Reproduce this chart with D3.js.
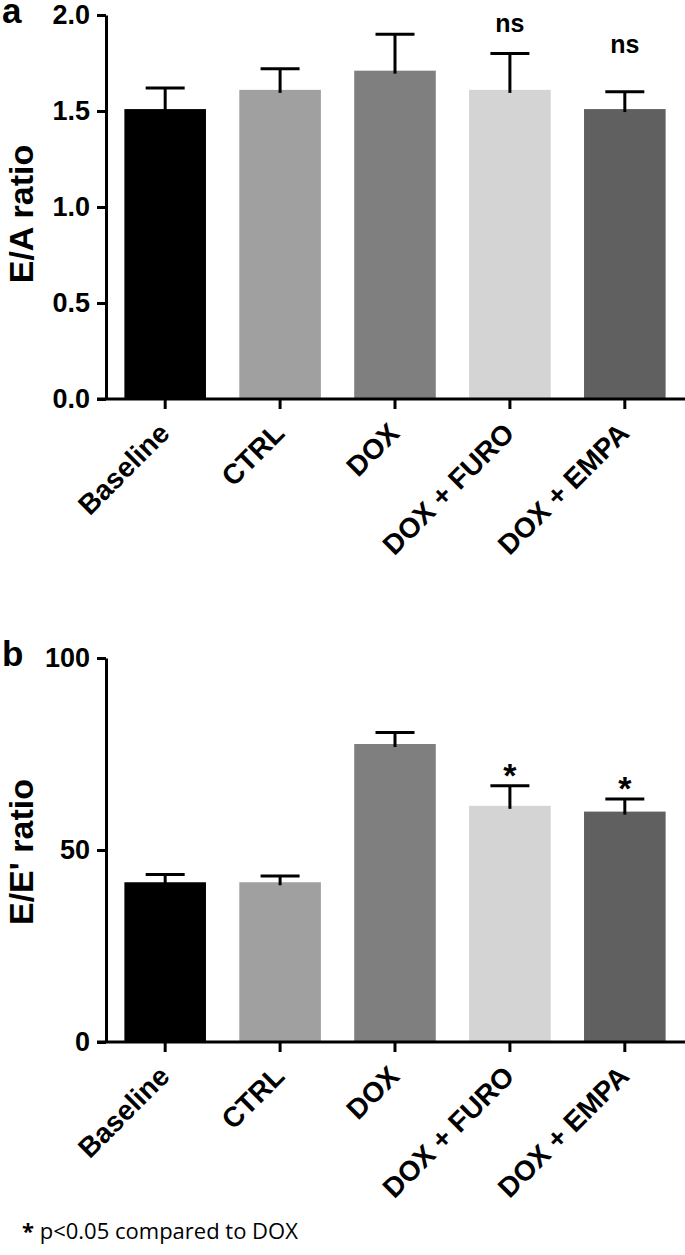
<!DOCTYPE html>
<html>
<head>
<meta charset="utf-8">
<script src="https://cdn.jsdelivr.net/npm/d3@7"></script>
<style>
  body { margin: 0; background: #fff; }
  svg { display: block; font-family: 'Liberation Sans', Arial, sans-serif; }
</style>
</head>
<body>
<div id="chart"></div>
<script>
// groups + bar colours
const groups = ['Baseline', 'CTRL', 'DOX', 'DOX + FURO', 'DOX + EMPA'];
const barColors = ['#000000', '#a0a0a0', '#7f7f7f', '#d4d4d4', '#606060'];

// panel a: E/A ratio
const eaMean = [1.51, 1.61, 1.71, 1.61, 1.51];
const eaErr = [0.11, 0.11, 0.19, 0.19, 0.09];
const eaTicks = [0, 0.5, 1.0, 1.5, 2.0];
const eaMarks = ['', '', '', 'ns', 'ns'];

// panel b: E/E' ratio
const eeMean = [41.6, 41.6, 77.6, 61.5, 60.0];
const eeErr = [2.0, 1.6, 3.0, 5.2, 3.3];
const eeTicks = [0, 50, 100];
const eeMarks = ['', '', '', '*', '*'];

const width = 685, height = 1255;

const svg = d3.select('#chart').append('svg')
  .attr('width', width)
  .attr('height', height);

/**
 * one bar panel
 * */
function drawPanel(opt) {
  const { top, bottom, domainMax, means, errs, ticks, tickFmt, marks, markSize, markDy, letter, yLabel, labelY } = opt;
  const axisX = 106;

  const x = d3.scaleBand()
    .domain(groups)
    .range([axisX, 684])
    .paddingInner(0.29)
    .paddingOuter(0.16);

  const y = d3.scaleLinear()
    .domain([0, domainMax])
    .range([bottom, top]);

  const g = svg.append('g');

  // bars
  g.selectAll('rect.bar')
    .data(groups)
    .enter()
    .append('rect')
    .attr('class', 'bar')
    .attr('x', d => x(d))
    .attr('y', (d, i) => y(means[i]))
    .attr('width', x.bandwidth())
    .attr('height', (d, i) => y(0) - y(means[i]))
    .attr('fill', (d, i) => barColors[i]);

  // error bars (upper only)
  const capW = 39;
  const eb = g.selectAll('g.err')
    .data(groups)
    .enter()
    .append('g')
    .attr('class', 'err')
    .attr('stroke', '#000')
    .attr('stroke-width', 3);
  eb.append('line')
    .attr('x1', d => x(d) + x.bandwidth() / 2)
    .attr('x2', d => x(d) + x.bandwidth() / 2)
    .attr('y1', (d, i) => y(means[i]) + 3)
    .attr('y2', (d, i) => y(means[i] + errs[i]));
  eb.append('line')
    .attr('x1', d => x(d) + x.bandwidth() / 2 - capW / 2)
    .attr('x2', d => x(d) + x.bandwidth() / 2 + capW / 2)
    .attr('y1', (d, i) => y(means[i] + errs[i]))
    .attr('y2', (d, i) => y(means[i] + errs[i]));

  // significance marks
  g.selectAll('text.mark')
    .data(groups)
    .enter()
    .append('text')
    .attr('class', 'mark')
    .attr('x', d => x(d) + x.bandwidth() / 2)
    .attr('y', (d, i) => y(means[i] + errs[i]) + markDy[i])
    .attr('text-anchor', 'middle')
    .style('font-size', markSize)
    .style('font-weight', 'bold')
    .text((d, i) => marks[i]);

  // y axis
  const yAxis = g.append('g')
    .attr('transform', `translate(${axisX},0)`)
    .call(d3.axisLeft(y)
      .tickValues(ticks)
      .tickFormat(tickFmt)
      .tickSizeInner(9)
      .tickSizeOuter(0)
      .tickPadding(7));
  yAxis.select('.domain').attr('stroke-width', 3);
  yAxis.selectAll('.tick line').attr('stroke-width', 3);
  yAxis.selectAll('.tick text')
    .style('font-size', '27px')
    .style('font-weight', 'bold')
    .attr('fill', '#000');

  // x axis
  const xAxis = g.append('g')
    .attr('transform', `translate(0,${bottom})`)
    .call(d3.axisBottom(x)
      .tickSizeInner(10)
      .tickSizeOuter(0));
  xAxis.select('.domain').remove();
  xAxis.append('line')
    .attr('x1', axisX - 9)
    .attr('x2', 685)
    .attr('stroke', '#000')
    .attr('stroke-width', 3);
  xAxis.selectAll('.tick line').attr('stroke-width', 3);
  xAxis.selectAll('.tick text')
    .attr('x', 0)
    .attr('y', 0)
    .attr('dy', 0)
    .attr('transform', 'translate(6,36) rotate(-45)')
    .attr('text-anchor', 'end')
    .style('font-size', '28px')
    .style('font-weight', 'bold')
    .attr('fill', '#000');

  // y label
  g.append('text')
    .attr('transform', `translate(33,${labelY}) rotate(-90)`)
    .attr('text-anchor', 'middle')
    .style('font-size', '34px')
    .style('font-weight', 'bold')
    .text(yLabel);

  // panel letter
  g.append('text')
    .attr('x', 2)
    .attr('y', top + 8)
    .style('font-size', '35px')
    .style('font-weight', 'bold')
    .text(letter);
}

drawPanel({
  top: 15, bottom: 399, domainMax: 2.0,
  means: eaMean, errs: eaErr, ticks: eaTicks,
  tickFmt: d3.format('.1f'),
  marks: eaMarks, markSize: '25px', markDy: [0, 0, 0, -21, -39],
  letter: 'a', yLabel: 'E/A ratio', labelY: 214
});

drawPanel({
  top: 658, bottom: 1042, domainMax: 100,
  means: eeMean, errs: eeErr, ticks: eeTicks,
  tickFmt: d3.format('d'),
  marks: eeMarks, markSize: '34px', markDy: [0, 0, 0, 1, 1],
  letter: 'b', yLabel: "E/E' ratio", labelY: 852
});

// footnote
const note = svg.append('text')
  .attr('x', 22)
  .attr('y', 1239)
  .style('font-family', "'Open Sans', sans-serif")
  .style('font-size', '22px');
note.append('tspan').style('font-weight', 'bold').text('*');
note.append('tspan').text(' p<0.05 compared to DOX');
</script>
</body>
</html>
